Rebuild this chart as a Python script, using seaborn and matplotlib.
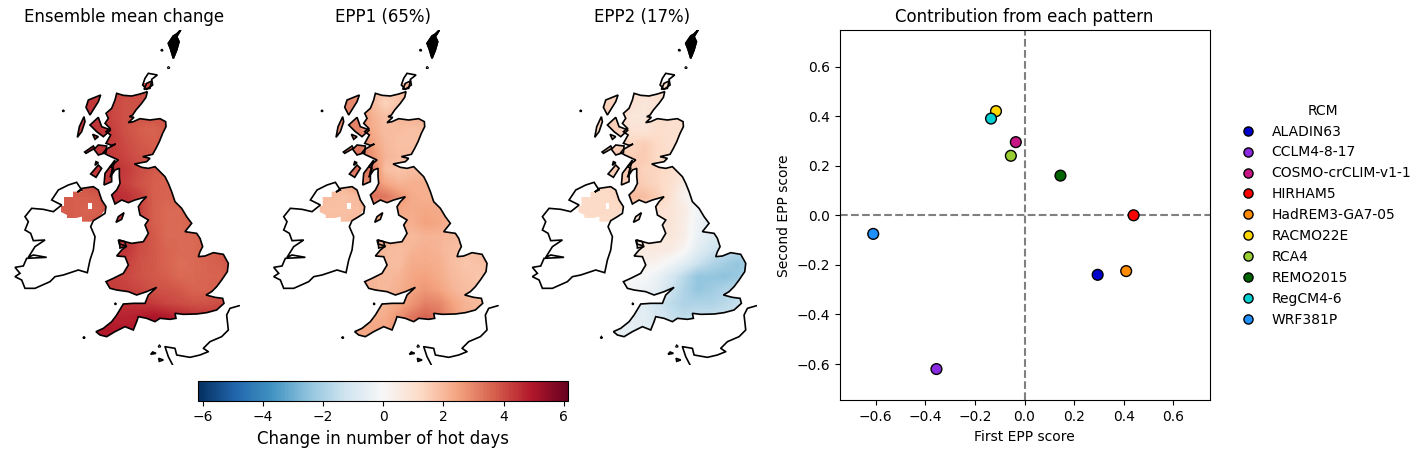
import numpy as np
import pandas as pd
import matplotlib
matplotlib.use('Agg')
import matplotlib.pyplot as plt
from matplotlib.path import Path
from matplotlib.patches import PathPatch, Polygon
import seaborn as sns

# rcm scores
rcms = ['ALADIN63', 'CCLM4-8-17', 'COSMO-crCLIM-v1-1', 'HIRHAM5', 'HadREM3-GA7-05',
        'RACMO22E', 'RCA4', 'REMO2015', 'RegCM4-6', 'WRF381P']
epp1_score = [0.295, -0.355, -0.035, 0.44, 0.41, -0.115, -0.055, 0.145, -0.135, -0.61]
epp2_score = [-0.24, -0.62, 0.295, 0.0, -0.225, 0.42, 0.24, 0.16, 0.39, -0.075]
rcm_colors = ['mediumblue', 'blueviolet', 'mediumvioletred', 'red', 'darkorange',
              'gold', 'yellowgreen', 'darkgreen', 'darkturquoise', 'dodgerblue']

# map grid
grid_x = [180, 220, 260, 300, 340, 380, 420, 460, 500, 540, 580, 620, 660, 700]
grid_y = [210, 250, 290, 330, 370, 410, 450, 490, 530, 570, 610, 650, 690, 730, 770, 810, 850, 890, 930, 970]

ens_mean = [
    [4.2, 4.2, 4.3, 4.3, 4.2, 4.1, 4.0, 4.0, 4.0, 4.0, 4.0, 4.0, 4.0, 4.0],
    [4.2, 4.2, 4.4, 4.3, 4.1, 3.9, 3.9, 4.0, 4.0, 4.0, 4.0, 4.0, 4.0, 4.0],
    [4.2, 4.2, 4.4, 4.4, 4.1, 3.9, 3.9, 3.9, 4.0, 4.0, 4.0, 4.0, 4.0, 4.0],
    [4.2, 4.2, 4.4, 4.4, 4.2, 3.9, 3.7, 3.6, 3.8, 3.8, 3.8, 3.8, 3.8, 3.8],
    [4.2, 4.2, 4.4, 4.4, 4.3, 4.0, 3.8, 3.7, 3.8, 3.8, 3.8, 3.8, 3.8, 3.8],
    [4.2, 4.2, 4.4, 4.4, 4.3, 4.1, 3.9, 3.8, 3.9, 3.9, 3.9, 3.9, 3.9, 3.9],
    [4.0, 4.0, 4.3, 4.4, 4.5, 4.3, 4.0, 3.8, 3.7, 3.9, 3.9, 3.9, 3.9, 3.9],
    [3.8, 3.8, 3.9, 4.2, 4.4, 4.2, 3.9, 3.7, 3.6, 3.7, 3.7, 3.7, 3.7, 3.7],
    [3.7, 3.7, 3.7, 3.8, 4.6, 4.5, 4.2, 3.7, 3.6, 3.7, 3.7, 3.7, 3.7, 3.7],
    [3.7, 3.7, 3.6, 3.7, 4.2, 4.4, 4.2, 3.7, 3.5, 3.5, 3.7, 3.7, 3.7, 3.7],
    [3.7, 3.7, 3.7, 3.8, 4.2, 4.3, 4.1, 3.7, 3.5, 3.5, 3.6, 3.6, 3.6, 3.6],
    [4.0, 4.0, 4.0, 4.2, 4.4, 4.4, 4.1, 3.8, 3.5, 3.5, 3.5, 3.7, 3.7, 3.7],
    [4.0, 4.0, 4.0, 4.2, 4.4, 4.4, 4.0, 3.8, 3.6, 3.5, 3.5, 3.6, 3.8, 4.0],
    [4.0, 4.0, 4.0, 4.2, 4.3, 4.2, 3.9, 3.8, 3.6, 3.4, 3.5, 3.6, 3.7, 3.9],
    [4.0, 4.0, 4.0, 4.2, 4.2, 4.1, 3.9, 3.8, 3.7, 3.5, 3.5, 3.6, 3.6, 3.9],
    [4.0, 4.0, 4.0, 4.3, 4.3, 4.2, 4.1, 3.9, 3.9, 3.8, 3.6, 3.6, 3.7, 3.9],
    [4.5, 4.5, 4.5, 4.5, 4.5, 4.5, 4.4, 4.3, 4.1, 4.0, 3.9, 3.9, 4.0, 4.2],
    [4.7, 4.7, 4.7, 4.7, 4.7, 4.7, 4.8, 5.0, 4.9, 4.7, 4.5, 4.4, 4.4, 4.4],
    [4.9, 4.9, 4.9, 4.9, 4.9, 4.9, 5.0, 5.0, 5.0, 4.8, 4.6, 4.5, 4.5, 4.5],
    [4.9, 4.9, 4.9, 4.9, 4.9, 4.9, 5.0, 5.0, 5.0, 4.8, 4.6, 4.5, 4.5, 4.5],
]
epp1_map = [
    [2.8, 2.8, 2.9, 2.9, 2.0, 1.7, 1.8, 2.2, 2.2, 2.2, 2.2, 2.2, 2.2, 2.2],
    [2.8, 2.8, 3.0, 2.9, 2.0, 1.4, 1.7, 2.2, 2.2, 2.2, 2.2, 2.2, 2.2, 2.2],
    [2.8, 2.8, 3.0, 3.0, 2.2, 1.8, 2.1, 2.2, 2.2, 2.2, 2.2, 2.2, 2.2, 2.2],
    [2.8, 2.8, 3.0, 3.1, 2.3, 1.9, 1.9, 1.8, 1.9, 1.9, 1.9, 1.9, 1.9, 1.9],
    [2.8, 2.8, 3.0, 3.2, 2.5, 2.0, 1.8, 1.8, 1.9, 1.9, 1.9, 1.9, 1.9, 1.9],
    [2.8, 2.8, 3.1, 3.4, 2.8, 2.1, 1.9, 1.9, 1.9, 1.9, 1.9, 1.9, 1.9, 1.9],
    [2.1, 2.1, 3.1, 3.5, 3.3, 1.9, 1.7, 1.9, 2.0, 2.0, 2.0, 2.0, 2.0, 2.0],
    [2.0, 2.0, 2.2, 2.8, 3.0, 2.4, 2.1, 2.2, 2.2, 2.3, 2.3, 2.3, 2.3, 2.3],
    [1.9, 1.9, 1.8, 2.0, 3.4, 3.3, 2.8, 2.3, 2.2, 2.2, 2.3, 2.3, 2.3, 2.3],
    [1.9, 1.8, 1.8, 1.9, 2.4, 2.7, 2.4, 2.3, 2.4, 2.3, 2.2, 2.2, 2.2, 2.2],
    [1.9, 1.9, 1.9, 2.0, 2.3, 2.4, 2.2, 2.2, 2.5, 2.4, 2.1, 2.0, 2.0, 2.0],
    [2.2, 2.2, 2.2, 2.3, 2.5, 2.4, 2.1, 2.0, 2.1, 2.1, 2.0, 2.0, 2.0, 2.0],
    [2.2, 2.2, 2.2, 2.3, 2.3, 2.0, 1.9, 2.1, 2.2, 2.1, 1.9, 1.8, 1.9, 2.2],
    [2.2, 2.2, 2.2, 2.3, 2.1, 1.9, 1.9, 2.3, 2.3, 2.2, 1.9, 1.7, 1.8, 2.0],
    [2.2, 2.2, 2.2, 2.2, 2.1, 2.0, 2.1, 2.4, 2.5, 2.3, 2.0, 1.8, 1.7, 1.8],
    [2.2, 2.2, 2.2, 2.2, 2.1, 2.0, 2.2, 2.5, 2.7, 2.5, 2.1, 1.9, 1.8, 1.9],
    [2.2, 2.2, 2.2, 2.2, 2.1, 2.1, 2.4, 2.7, 3.1, 3.0, 2.5, 2.1, 2.0, 2.0],
    [2.2, 2.2, 2.2, 2.2, 2.2, 2.3, 2.7, 3.3, 3.6, 3.3, 2.7, 2.2, 2.1, 2.1],
    [2.2, 2.2, 2.2, 2.4, 2.4, 2.5, 2.8, 3.3, 3.6, 3.3, 2.7, 2.2, 2.1, 2.1],
    [2.2, 2.2, 2.2, 2.4, 2.4, 2.5, 2.8, 3.3, 3.6, 3.3, 2.7, 2.2, 2.1, 2.1],
]
epp2_map = [
    [1.3, 1.3, 1.4, 1.4, 1.1, 1.0, 1.0, 1.1, 1.1, 1.1, 1.1, 1.1, 1.1, 1.1],
    [1.3, 1.3, 1.4, 1.4, 1.0, 0.7, 0.9, 1.1, 1.1, 1.1, 1.1, 1.1, 1.1, 1.1],
    [1.3, 1.3, 1.5, 1.4, 0.7, 0.7, 1.1, 1.1, 1.1, 1.1, 1.1, 1.1, 1.1, 1.1],
    [1.3, 1.3, 1.5, 1.5, 0.9, 0.8, 1.1, 1.0, 1.0, 1.0, 1.0, 1.0, 1.0, 1.0],
    [1.3, 1.3, 1.5, 1.5, 1.3, 1.5, 1.2, 1.0, 1.0, 1.0, 1.0, 1.0, 1.0, 1.0],
    [1.3, 1.3, 1.5, 1.6, 1.5, 1.6, 1.2, 1.1, 1.0, 1.0, 1.0, 1.0, 1.0, 1.0],
    [1.2, 1.2, 1.4, 1.6, 1.7, 1.4, 1.3, 1.1, 0.8, 0.8, 0.8, 0.8, 0.8, 0.8],
    [1.2, 1.2, 1.2, 1.4, 1.6, 1.5, 1.3, 1.0, 0.5, 0.2, 0.2, 0.2, 0.2, 0.2],
    [1.2, 1.2, 1.2, 1.3, 2.0, 1.9, 1.5, 0.9, 0.2, 0.0, 0.0, 0.0, 0.0, 0.0],
    [1.2, 1.2, 1.2, 1.2, 1.3, 1.2, 1.0, 0.8, 0.5, -0.2, -0.5, -0.5, -0.5, -0.5],
    [1.1, 1.1, 1.1, 1.1, 1.0, 0.9, 0.8, 0.8, 0.4, -0.3, -0.8, -0.8, -0.8, -0.8],
    [0.6, 0.6, 0.6, 0.6, 0.7, 0.7, 0.6, 0.7, 0.4, -0.4, -0.8, -1.0, -1.0, -1.0],
    [0.6, 0.6, 0.6, 0.6, 0.7, 0.6, 0.6, 0.5, 0.1, -0.7, -1.2, -1.5, -1.6, -1.7],
    [0.6, 0.6, 0.6, 0.6, 0.5, 0.3, 0.2, -0.2, -0.7, -1.3, -1.8, -2.1, -2.4, -1.9],
    [0.6, 0.6, 0.6, 0.3, 0.0, 0.0, -0.4, -1.0, -1.7, -2.4, -2.4, -2.5, -2.3, -1.7],
    [-0.3, -0.3, -0.3, -0.1, -0.1, -0.3, -0.6, -1.3, -1.9, -2.4, -2.2, -1.9, -1.6, -1.4],
    [-0.4, -0.4, -0.4, -0.4, -0.6, -0.7, -1.2, -1.6, -1.9, -1.9, -1.9, -1.7, -1.4, -1.3],
    [-0.4, -0.4, -0.4, -0.4, -0.6, -0.7, -1.0, -1.4, -1.6, -1.4, -1.4, -1.3, -1.3, -1.3],
    [-0.4, -0.4, -0.4, -0.4, -0.6, -0.7, -0.9, -1.1, -1.3, -1.3, -1.3, -1.3, -1.3, -1.3],
    [-0.4, -0.4, -0.4, -0.4, -0.6, -0.7, -0.9, -1.1, -1.3, -1.3, -1.3, -1.3, -1.3, -1.3],
]

# coastlines, traced
great_britain = [
    (350, 220), (370, 226), (395, 228), (420, 222), (442, 215), (438, 232), (425, 250), (408, 270),
    (398, 285), (388, 290), (402, 292), (385, 308), (400, 305), (420, 296), (450, 300), (480, 296),
    (497, 305), (498, 320), (488, 340), (478, 365), (468, 385), (458, 403), (428, 410), (450, 415),
    (440, 425), (403, 432), (425, 442), (445, 445), (465, 440), (480, 455), (495, 470), (505, 490),
    (515, 515), (525, 545), (545, 565), (560, 590), (575, 610), (555, 635), (590, 640), (600, 655),
    (608, 680), (600, 695), (595, 710), (615, 708), (640, 698), (670, 703), (685, 730), (682, 755),
    (665, 780), (650, 800), (635, 815), (618, 825), (645, 832), (668, 835), (672, 850), (650, 870),
    (620, 878), (590, 882), (550, 883), (525, 880), (528, 895), (510, 898), (480, 895), (465, 905),
    (440, 895), (415, 890), (410, 905), (400, 930), (375, 920), (345, 935), (320, 950), (300, 945),
    (288, 935), (310, 925), (335, 905), (350, 885), (370, 852), (400, 850), (435, 850), (445, 825),
    (470, 802), (440, 815), (410, 825), (385, 815), (350, 810), (330, 805), (318, 785), (340, 775),
    (370, 760), (385, 735), (375, 710), (350, 708), (365, 690), (380, 678), (358, 672), (355, 660),
    (375, 665), (395, 670), (430, 665), (445, 640), (435, 615), (445, 600), (420, 585), (415, 560),
    (425, 545), (440, 530), (405, 540), (385, 548), (365, 540), (345, 552), (335, 525), (350, 510),
    (360, 490), (358, 470), (358, 445), (345, 450), (330, 472), (340, 445), (330, 440), (355, 420),
    (322, 405), (310, 398), (318, 388), (347, 372), (335, 376), (318, 370), (332, 345), (318, 335),
    (330, 325), (315, 310), (325, 295), (318, 280), (335, 265), (345, 240),
]
ireland = [
    (230, 487), (245, 510), (232, 516), (246, 505), (280, 500), (295, 510), (305, 540), (318, 560),
    (315, 580), (300, 590), (280, 602), (272, 620), (285, 650), (280, 690), (270, 720), (262, 758),
    (235, 750), (190, 765), (165, 770), (150, 785), (105, 805), (75, 805), (65, 780), (45, 770),
    (60, 760), (45, 742), (70, 738), (80, 715), (140, 712), (100, 705), (85, 712), (105, 680),
    (135, 660), (100, 662), (92, 640), (75, 630), (85, 605), (75, 590), (95, 565), (130, 568),
    (160, 575), (185, 555), (155, 540), (175, 510), (205, 495),
]
n_ireland_cells = [
    (192, 531), (219, 531), (219, 515), (245, 515), (245, 505), (280, 500), (296, 510), (306, 540),
    (318, 565), (300, 590), (273, 605), (246, 605), (246, 590), (228, 594), (201, 594), (201, 585),
    (183, 576), (183, 558), (192, 558),
]
missing_cell = [(265, 549), (276, 549), (276, 567), (265, 567)]
shetland = [(542, 30), (530, 42), (520, 48), (505, 70), (512, 88), (520, 115), (530, 90), (537, 65), (530, 50)]
orkney = [(445, 160), (472, 165), (455, 178), (458, 195), (440, 208), (428, 195), (435, 175)]
orkney_south = [(440, 190), (455, 183), (450, 205), (432, 208)]
lewis = [(302, 225), (295, 245), (270, 285), (258, 262), (265, 240)]
uist = [(252, 290), (255, 305), (245, 335), (232, 352), (238, 320)]
skye = [(295, 292), (305, 320), (332, 330), (310, 350), (290, 335), (270, 315)]
rum = [(278, 343), (295, 350), (285, 358)]
tiree = [(254, 396), (280, 378), (284, 385), (258, 400)]
mull = [(295, 375), (320, 378), (318, 398), (295, 405), (282, 388)]
colonsay = [(288, 425), (295, 428), (285, 436)]
jura = [(295, 435), (305, 445), (288, 472), (272, 462)]
kintyre = [(345, 420), (335, 455), (335, 485), (312, 495), (315, 460)]
man = [(372, 578), (365, 598), (348, 607), (355, 590)]
anglesey = [(358, 660), (375, 665), (378, 680), (360, 684)]
france = [
    (718, 857), (690, 865), (680, 885), (685, 930), (665, 950), (630, 965), (610, 985), (625, 995),
    (600, 1005), (570, 1012), (530, 1005), (525, 985), (495, 980), (505, 1010), (518, 1035),
]
specks = [
    [(190, 271), (193, 274), (187, 274)], [(485, 88), (489, 92), (483, 92)], [(505, 140), (509, 144), (503, 145)],
    [(252, 950), (255, 954), (249, 954)], [(458, 996), (468, 1000), (452, 1003)], [(476, 1015), (490, 1020), (478, 1024)],
    [(478, 976), (482, 980), (475, 981)], [(346, 850), (349, 853), (344, 853)],
]

islands = [orkney, orkney_south, lewis, uist, skye, rum, tiree, mull, colonsay, jura, kintyre, man, anglesey]
coast_closed = [great_britain, ireland, shetland] + islands + specks
land_cells = [great_britain, n_ireland_cells] + islands

panel_titles = ['Ensemble mean change', 'EPP1 (65%)', 'EPP2 (17%)']
panel_fields = [ens_mean, epp1_map, epp2_map]

W, H = 1427, 454
fig = plt.figure(figsize=(W / 100, H / 100), dpi=100)
sns.set_style('ticks', rc={'text.color': 'black', 'axes.labelcolor': 'black', 'xtick.color': 'black',
                           'ytick.color': 'black', 'axes.edgecolor': 'black', 'axes.linewidth': 0.8,
                           'xtick.major.size': 3.5, 'ytick.major.size': 3.5,
                           'xtick.major.width': 0.8, 'ytick.major.width': 0.8})
plt.rcParams['font.family'] = ['DejaVu Sans']


def px_axes(left, top, right, bottom):
    return fig.add_axes([left / W, 1 - bottom / H, (right - left) / W, (bottom - top) / H])


def to_path(polys):
    verts, codes = [], []
    for poly in polys:
        verts += list(poly) + [poly[0]]
        codes += [Path.MOVETO] + [Path.LINETO] * (len(poly) - 1) + [Path.CLOSEPOLY]
    return Path(verts, codes)


vmax = 6.15
for i, (title, field) in enumerate(zip(panel_titles, panel_fields)):
    left = 9 + i * 258.7
    ax = px_axes(left, 30, left + 231, 365)
    im = ax.imshow(np.array(field), cmap='RdBu_r', vmin=-vmax, vmax=vmax, interpolation='bilinear',
                   extent=[grid_x[0] - 20, grid_x[-1] + 20, grid_y[-1] + 20, grid_y[0] - 20], aspect='auto')
    clip = PathPatch(to_path(land_cells), transform=ax.transData, fc='none', ec='none')
    ax.add_patch(clip)
    im.set_clip_path(clip)
    ax.add_patch(Polygon(missing_cell, fc='white', ec='none'))
    for poly in coast_closed:
        ax.add_patch(Polygon(poly, closed=True, fc='none', ec='black', lw=1.2))
    ax.add_patch(Polygon(shetland, closed=True, fc='black', ec='black', lw=1.2))
    ax.plot(*zip(*france), color='black', lw=1.2)
    ax.set_xlim(27, 720)
    ax.set_ylim(1035, 30)
    ax.axis('off')
    ax.set_title(title, fontsize=12, pad=6, color='black')

cax = px_axes(198.3, 381.3, 568.3, 400.7)
cb = fig.colorbar(im, cax=cax, orientation='horizontal')
cb.set_ticks([-6, -4, -2, 0, 2, 4, 6])
cb.ax.tick_params(labelsize=10)
cb.set_label('Change in number of hot days', fontsize=12)

# contribution scatter
scores = pd.DataFrame({'RCM': rcms, 'epp1': epp1_score, 'epp2': epp2_score})
ax = px_axes(839.5, 30.3, 1209.5, 400.3)
ax.axhline(0, color='gray', ls='--', lw=1.5, zorder=1)
ax.axvline(0, color='gray', ls='--', lw=1.5, zorder=1)
sns.scatterplot(data=scores, x='epp1', y='epp2', hue='RCM', hue_order=rcms, palette=rcm_colors,
                s=60, edgecolor='black', linewidth=1.0, zorder=3, ax=ax)
ax.set_xlim(-0.746, 0.746)
ax.set_ylim(-0.746, 0.746)
ax.set_xticks(np.arange(-0.6, 0.61, 0.2))
ax.set_yticks(np.arange(-0.6, 0.61, 0.2))
ax.tick_params(labelsize=10)
ax.set_xlabel('First EPP score', fontsize=10)
ax.set_ylabel('Second EPP score', fontsize=10)
ax.set_title('Contribution from each pattern', fontsize=12, pad=6, color='black')
sns.move_legend(ax, 'center left', bbox_to_anchor=(1.033, 0.5), frameon=False, title='RCM', fontsize=10,
                handletextpad=0.7, markerscale=0.85)

fig.savefig('out.png', dpi=100)
